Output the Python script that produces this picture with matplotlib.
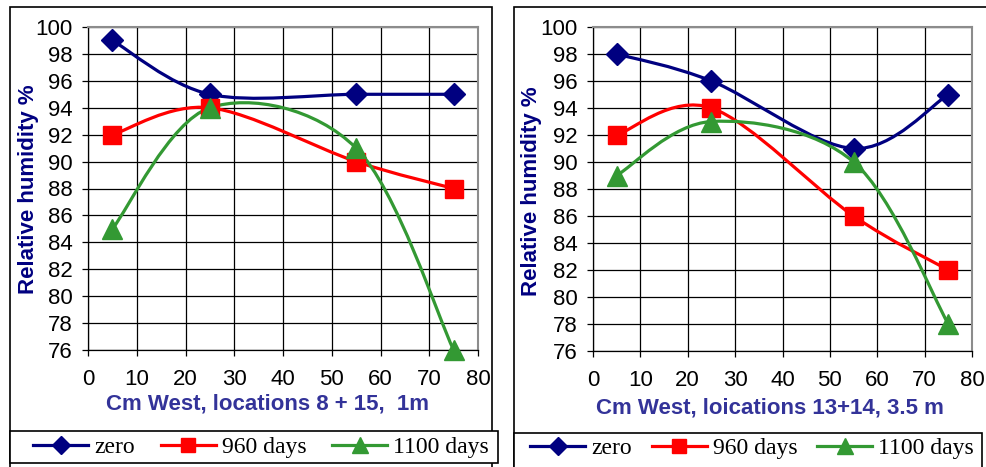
import numpy as np
import matplotlib
matplotlib.use("Agg")
import matplotlib.pyplot as plt
from matplotlib.path import Path
from matplotlib.patches import PathPatch, Rectangle
from matplotlib.lines import Line2D

# data
x_cm = [5, 25, 55, 75]
series_names = ["zero", "960 days", "1100 days"]

left_zero = [99, 95, 95, 95]
left_960 = [92, 94, 90, 88]
left_1100 = [85, 94, 91, 76]

right_zero = [98, 96, 91, 95]
right_960 = [92, 94, 86, 82]
right_1100 = [89, 93, 90, 78]

left_xlabel = "Cm West, locations 8 + 15,  1m"
right_xlabel = "Cm West, loications 13+14, 3.5 m"
ylabel = "Relative humidity %"

colors = ["#000080", "#FF0000", "#339933"]
markers = ["D", "s", "^"]
msizes = [11.5, 13, 14.5]

plt.rcParams["font.family"] = ["Liberation Sans", "DejaVu Sans"]

W, H = 986, 467
fig = plt.figure(figsize=(W / 100, H / 100), dpi=100)


def box(l, t, r, b):
    # pixel box -> figure fraction [left, bottom, width, height]
    return [l / W, 1 - b / H, (r - l) / W, (b - t) / H]


def smooth_path(xs, ys):
    # Excel style smoothed line: Catmull-Rom through the points as cubic Bezier
    p = np.column_stack([xs, ys]).astype(float)
    ext = np.vstack([p[0], p, p[-1]])
    verts = [p[0]]
    codes = [Path.MOVETO]
    for i in range(len(p) - 1):
        p0, p1, p2, p3 = ext[i], ext[i + 1], ext[i + 2], ext[i + 3]
        c1 = p1 + (p2 - p0) / 6
        c2 = p2 - (p3 - p1) / 6
        verts += [c1, c2, p2]
        codes += [Path.CURVE4] * 3
    return Path(verts, codes)


def draw_panel(rect, data, xlabel, xl_pos, yl_pos):
    ax = fig.add_axes(rect)
    handles = []
    for ys, c, m, ms in zip(data, colors, markers, msizes):
        ax.add_patch(PathPatch(smooth_path(x_cm, ys), fill=False, edgecolor=c,
                               lw=2.3, zorder=3, capstyle="round", joinstyle="round",
                               clip_on=False))
        ax.plot(x_cm, ys, ls="none", marker=m, ms=ms, color=c, zorder=4, clip_on=False)
        handles.append(Line2D([], [], color=c, lw=2.3, marker=m, ms=ms * 0.8))
    ax.set_xlim(0, 80)
    ax.set_ylim(76, 100)
    ax.set_xticks(np.arange(0, 81, 10))
    ax.set_yticks(np.arange(76, 101, 2))
    ax.grid(True, color="black", lw=0.9)
    ax.set_axisbelow(True)
    ax.tick_params(direction="out", length=4.5, width=0.9, labelsize=16, colors="black")
    ax.tick_params(axis="x", pad=9)
    ax.tick_params(axis="y", pad=6.5)
    for s in ["top", "right"]:
        ax.spines[s].set_color("#8c8c8c")
        ax.spines[s].set_linewidth(1.5)
    for s in ["left", "bottom"]:
        ax.spines[s].set_color("black")
        ax.spines[s].set_linewidth(0.9)
    fig.text(xl_pos[0] / W, 1 - xl_pos[1] / H, xlabel, ha="center", va="center",
             fontsize=16, fontweight="bold", color="#333399")
    fig.text(yl_pos[0] / W, 1 - yl_pos[1] / H, ylabel, ha="center", va="center",
             rotation=90, fontsize=16, fontweight="bold", color="#000080")
    return ax, handles


ax1, h1 = draw_panel(box(88, 27, 478, 350), [left_zero, left_960, left_1100],
                     left_xlabel, (267, 404), (29, 189))
ax2, h2 = draw_panel(box(593, 27, 972, 351), [right_zero, right_960, right_1100],
                     right_xlabel, (770, 408), (532, 191))

# outer chart frames
for l, t, r, b in [(10, 7, 492, 475), (514, 7, 995, 475)]:
    fig.add_artist(Rectangle((l / W, 1 - b / H), (r - l) / W, (b - t) / H,
                             transform=fig.transFigure, fill=False,
                             edgecolor="black", lw=1.2))

# legends: frame drawn as a rectangle, entries centred inside it
for hs, (l, t, r, b), cs, shift in [(h1, (10, 431, 498, 463), 1.1, 14),
                                    (h2, (514, 433, 982, 470), 0.85, 8)]:
    fig.add_artist(Rectangle((l / W, 1 - b / H), (r - l) / W, (b - t) / H,
                             transform=fig.transFigure, facecolor="white",
                             edgecolor="black", lw=1.2, zorder=5))
    leg = fig.legend(hs, series_names, loc="center", ncol=3,
                     bbox_to_anchor=box(l + shift, t, r, min(b, 463)),
                     prop={"family": "Liberation Serif", "size": 17},
                     handlelength=2.33, handletextpad=0.25, columnspacing=cs,
                     borderpad=0.0, borderaxespad=0, frameon=False)
    leg.set_zorder(6)

fig.savefig("out.png", dpi=100)
